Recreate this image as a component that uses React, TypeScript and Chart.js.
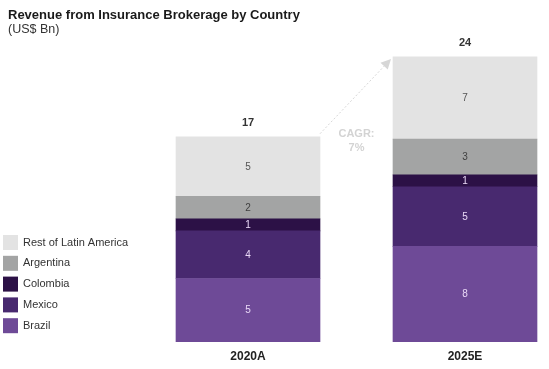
import React, { useEffect, useRef } from "react";
import { Chart, registerables } from "chart.js";

Chart.register(...registerables);

const categories = ["2020A", "2025E"];
const brazil = [5.3, 8.0];
const mexico = [4.0, 5.0];
const colombia = [1.0, 1.0];
const argentina = [1.9, 3.0];
const restOfLatam = [5.0, 6.9];
const cagrText = ["CAGR:", "7%"];
const titleText = "Revenue from Insurance Brokerage by Country";
const subtitleText = "(US$ Bn)";

const FONT = "'Liberation Sans', Arial, sans-serif";

const seriesColors = {
  brazil: "#6e4a97",
  mexico: "#48296f",
  colombia: "#2c1146",
  argentina: "#a3a4a4",
  rest: "#e3e3e3",
};

const labelColors = ["#ead9f7", "#ead9f7", "#ead9f7", "#404040", "#555555"];

const overlayPlugin = {
  id: "overlay",
  afterDatasetsDraw(chart: any) {
    const ctx = chart.ctx;
    const xs = chart.scales.x;
    const ys = chart.scales.y;
    const ds = chart.data.datasets;
    ctx.save();

    // segment labels
    ds.forEach((d: any, di: number) => {
      const meta = chart.getDatasetMeta(di);
      meta.data.forEach((el: any, i: number) => {
        const v = d.data[i];
        const cy = (el.y + el.base) / 2;
        ctx.font = `10px ${FONT}`;
        ctx.fillStyle = labelColors[di];
        ctx.textAlign = "center";
        ctx.textBaseline = "middle";
        ctx.fillText(String(Math.round(v)), el.x, cy + 0.5);
      });
    });

    // totals
    const totals = categories.map((_, i) =>
      ds.reduce((s: number, d: any) => s + d.data[i], 0)
    );
    totals.forEach((t, i) => {
      const x = xs.getPixelForValue(i);
      const y = ys.getPixelForValue(t);
      ctx.font = `bold 11px ${FONT}`;
      ctx.fillStyle = "#333333";
      ctx.textAlign = "center";
      ctx.textBaseline = "middle";
      ctx.fillText(String(Math.round(t)), x, y - 14);
    });

    // CAGR arrow
    const half = 72;
    const x0 = xs.getPixelForValue(0) + half;
    const y0 = ys.getPixelForValue(totals[0]) - 3;
    const x1 = xs.getPixelForValue(1) - half - 2;
    const y1 = ys.getPixelForValue(totals[1]) + 2;
    const ang = Math.atan2(y1 - y0, x1 - x0);
    const headLen = 10;
    const bx = x1 - headLen * Math.cos(ang);
    const by = y1 - headLen * Math.sin(ang);
    ctx.strokeStyle = "#d6d6d6";
    ctx.lineWidth = 1;
    ctx.setLineDash([2, 2]);
    ctx.beginPath();
    ctx.moveTo(x0, y0);
    ctx.lineTo(bx, by);
    ctx.stroke();
    ctx.setLineDash([]);
    ctx.fillStyle = "#d6d6d6";
    ctx.beginPath();
    ctx.moveTo(x1, y1);
    ctx.lineTo(bx + 5 * Math.sin(ang), by - 5 * Math.cos(ang));
    ctx.lineTo(bx - 5 * Math.sin(ang), by + 5 * Math.cos(ang));
    ctx.closePath();
    ctx.fill();

    ctx.font = `bold 11px ${FONT}`;
    ctx.fillStyle = "#d3d3d3";
    ctx.textAlign = "center";
    ctx.textBaseline = "middle";
    const cx = (x0 + x1) / 2 + 1;
    ctx.fillText(cagrText[0], cx, 134);
    ctx.fillText(cagrText[1], cx, 148);

    // title
    ctx.textAlign = "left";
    ctx.textBaseline = "alphabetic";
    ctx.fillStyle = "#1a1a1a";
    ctx.font = `bold 13px ${FONT}`;
    ctx.fillText(titleText, 8, 19);
    ctx.fillStyle = "#333333";
    ctx.font = `12.5px ${FONT}`;
    ctx.fillText(subtitleText, 8, 33);

    // legend (reverse order: top of stack first)
    const order = [...ds.keys()].reverse();
    order.forEach((di: number, k: number) => {
      const d = ds[di];
      const top = 235 + k * 20.8;
      ctx.fillStyle = d.backgroundColor;
      ctx.fillRect(3, top, 15, 15);
      ctx.fillStyle = "#333333";
      ctx.font = `11px ${FONT}`;
      ctx.textAlign = "left";
      ctx.textBaseline = "middle";
      ctx.fillText(d.label, 23, top + 7.5);
    });

    ctx.restore();
  },
};

export default function App() {
  const ref = useRef<HTMLCanvasElement>(null);
  useEffect(() => {
    if (!ref.current) return;
    const mk = (label: string, data: number[], color: string) => ({
      label,
      data,
      backgroundColor: color,
      borderWidth: 0,
      barThickness: 144,
      clip: false as any,
    });
    const chart = new Chart(ref.current, {
      type: "bar",
      data: {
        labels: categories,
        datasets: [
          mk("Brazil", brazil, seriesColors.brazil),
          mk("Mexico", mexico, seriesColors.mexico),
          mk("Colombia", colombia, seriesColors.colombia),
          mk("Argentina", argentina, seriesColors.argentina),
          mk("Rest of Latin America", restOfLatam, seriesColors.rest),
        ],
      },
      options: {
        animation: false,
        responsive: false,
        devicePixelRatio: 1,
        layout: { padding: { left: 248, right: 84, top: 20, bottom: 5 } },
        plugins: {
          legend: { display: false },
          tooltip: { enabled: false },
          title: { display: false },
        },
        scales: {
          x: {
            stacked: true,
            offset: false,
            grid: { display: false },
            border: { display: false },
            ticks: {
              padding: 0,
              color: "#222222",
              font: { family: FONT, size: 12, weight: "bold" },
            },
          },
          y: {
            stacked: true,
            display: false,
            min: 0,
            max: 27,
          },
        },
      },
      plugins: [overlayPlugin],
    });
    return () => chart.destroy();
  }, []);
  return (
    <div style={{ position: "absolute", left: 0, top: 0, width: 549, height: 369, background: "#fff" }}>
      <canvas ref={ref} width={549} height={369} />
    </div>
  );
}
